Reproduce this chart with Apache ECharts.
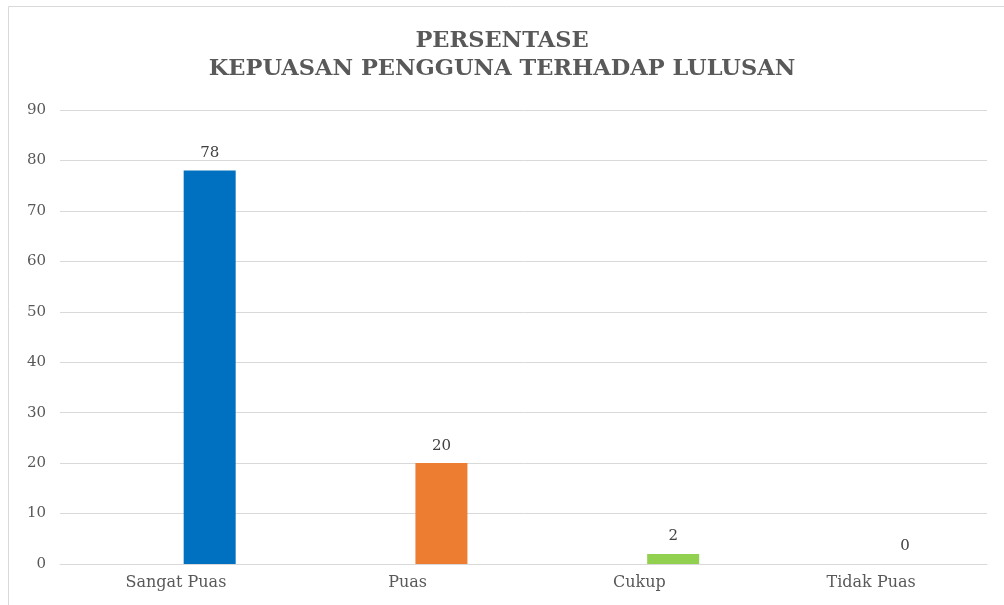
<!DOCTYPE html>
<html><head><meta charset="utf-8">
<script src="https://cdn.jsdelivr.net/npm/echarts@6/dist/echarts.min.js"></script>
<style>html,body{margin:0;padding:0;background:#fff}#c{width:1004px;height:605px}</style>
</head><body><div id="c"></div>
<script>
var categories = ['Sangat Puas', 'Puas', 'Cukup', 'Tidak Puas'];
var values = [78, 20, 2, 0];
var placeholder = [null, null, null, null];
var barColors = ['#0070C0', '#ED7D31', '#92D050', '#A5A5A5'];
var yTicks = { min: 0, max: 90, interval: 10 };
var titleLines = ['PERSENTASE', 'KEPUASAN PENGGUNA TERHADAP LULUSAN'];

var font = '"DejaVu Serif", "Liberation Serif", serif';
var chart = echarts.init(document.getElementById('c'));
chart.setOption({
  animation: false,
  graphic: [{ type: 'rect', shape: { x: 8.5, y: 6.5, width: 1100, height: 700 }, style: { fill: 'none', stroke: '#d9d9d9', lineWidth: 1 }, silent: true }],
  title: {
    text: titleLines.join('\n'), left: 'center', top: 22,
    textStyle: { fontFamily: font, fontWeight: 'bold', fontSize: 22.5, color: '#595959', lineHeight: 28 }
  },
  grid: { left: 60, right: 17, top: 110, bottom: 41 },
  xAxis: {
    type: 'category', data: categories,
    axisLine: { lineStyle: { color: '#d9d9d9', width: 1 } },
    axisTick: { show: false },
    axisLabel: { fontFamily: font, fontSize: 16, color: '#595959', margin: 11 }
  },
  yAxis: {
    type: 'value', min: yTicks.min, max: yTicks.max, interval: yTicks.interval,
    axisLine: { show: false }, axisTick: { show: false },
    splitLine: { lineStyle: { color: '#d9d9d9', width: 1 } },
    axisLabel: { fontFamily: font, fontSize: 15, color: '#595959', margin: 14 }
  },
  series: [
    { type: 'bar', data: placeholder, barWidth: 52, barGap: '30%', silent: true },
    {
      type: 'bar', barWidth: 52,
      data: values.map(function (v, i) { return { value: v, itemStyle: { color: barColors[i] } }; }),
      label: { show: true, position: 'top', distance: 10, fontFamily: font, fontSize: 15, color: '#404040' }
    }
  ]
});
</script></body></html>
